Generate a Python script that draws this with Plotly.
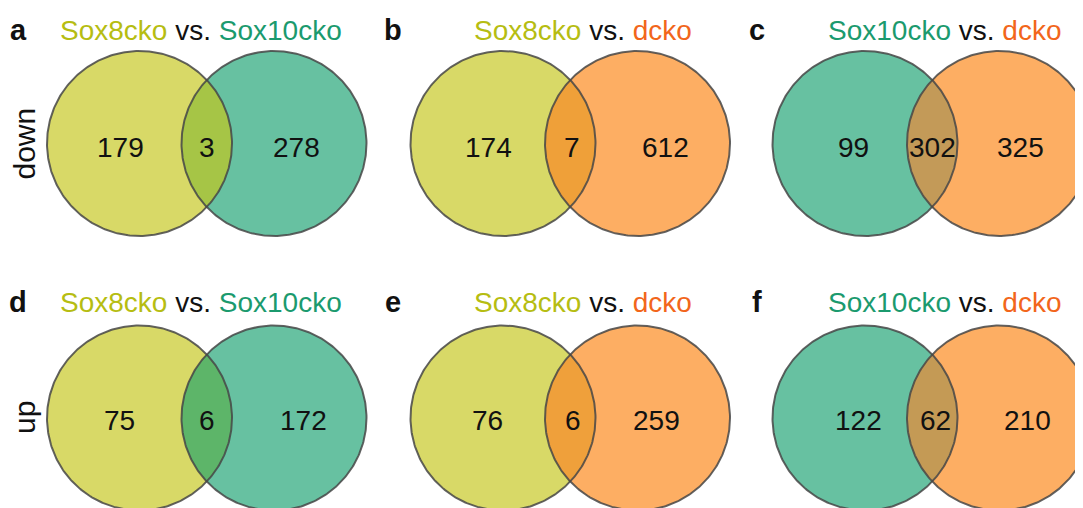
import numpy as np
import plotly.graph_objects as go

# ---- data ----
panel_letters = ["a", "b", "c", "d", "e", "f"]
set_left = ["Sox8cko", "Sox8cko", "Sox10cko", "Sox8cko", "Sox8cko", "Sox10cko"]
set_right = ["Sox10cko", "dcko", "dcko", "Sox10cko", "dcko", "dcko"]
only_left = [179, 174, 99, 75, 76, 122]
shared = [3, 7, 302, 6, 6, 62]
only_right = [278, 612, 325, 172, 259, 210]
row_labels = ["down", "up"]

# ---- styles ----
fill_col = {"Sox8cko": "#d8d967", "Sox10cko": "#67c1a1", "dcko": "#fdae63"}
text_col = {"Sox8cko": "#b6bd12", "Sox10cko": "#1b9a6e", "dcko": "#f2661b"}
lens_col = ["#a6c546", "#efa039", "#c39a58", "#5db569", "#efa03b", "#c49a55"]
FONT = "Arial, Liberation Sans, sans-serif"

# ---- layout (pixel space of the page; body has an 8px margin) ----
W, H = 1083, 508
OFF = 8
left_cx = [139.5, 503, 865]
sep = 134.5
row_cy = [143.5, 418]
R = 92.5
title_y = [30, 302]
num_y = [147, 420]
letter_x = [18, 393, 757]
title_cx = [201, 583, 944]
num_x = [[120, 207, 296], [488, 572, 665], [853, 932, 1020],
         [119, 207, 303], [487, 573, 656], [858, 935, 1027]]

fig = go.Figure()
t = np.linspace(0, 2 * np.pi, 361)


def circle(cx, cy):
    return cx + R * np.cos(t), cy + R * np.sin(t)


def lens(cx1, cx2, cy):
    d = cx2 - cx1
    a = d / 2
    h = np.sqrt(R * R - a * a)
    ang = np.arctan2(h, a)
    th1 = np.linspace(-ang, ang, 100)
    x1 = cx1 + R * np.cos(th1)
    y1 = cy + R * np.sin(th1)
    th2 = np.linspace(np.pi - ang, np.pi + ang, 100)
    x2 = cx2 + R * np.cos(th2)
    y2 = cy + R * np.sin(th2)
    return np.concatenate([x1, x2]), np.concatenate([y1, y2])


annotations = []
for i in range(6):
    r, c = divmod(i, 3)
    cx1 = left_cx[c]
    cx2 = cx1 + sep
    cy = row_cy[r]
    for cx, name in [(cx1, set_left[i]), (cx2, set_right[i])]:
        x, y = circle(cx, cy)
        fig.add_trace(go.Scatter(x=x, y=y, mode="lines", fill="toself",
                                 fillcolor=fill_col[name], line=dict(width=0),
                                 hoverinfo="skip", showlegend=False))
    lx, ly = lens(cx1, cx2, cy)
    fig.add_trace(go.Scatter(x=lx, y=ly, mode="lines", fill="toself",
                             fillcolor=lens_col[i], line=dict(width=0),
                             hoverinfo="skip", showlegend=False))
    for cx in (cx1, cx2):
        x, y = circle(cx, cy)
        fig.add_trace(go.Scatter(x=x, y=y, mode="lines",
                                 line=dict(color="rgba(70,70,70,0.85)", width=2),
                                 hoverinfo="skip", showlegend=False))
    for val, xx in zip([only_left[i], shared[i], only_right[i]], num_x[i]):
        annotations.append(dict(x=xx, y=num_y[r], text=str(val), showarrow=False,
                                font=dict(family=FONT, size=28, color="#111111"),
                                xanchor="center", yanchor="middle"))
    annotations.append(dict(x=letter_x[c], y=title_y[r], text="<b>%s</b>" % panel_letters[i],
                            showarrow=False, xanchor="center", yanchor="middle",
                            font=dict(family=FONT, size=29, color="#111111")))
    title = ("<span style='color:%s'>%s</span> vs. <span style='color:%s'>%s</span>"
             % (text_col[set_left[i]], set_left[i], text_col[set_right[i]], set_right[i]))
    annotations.append(dict(x=title_cx[c], y=title_y[r], text=title, showarrow=False,
                            xanchor="center", yanchor="middle",
                            font=dict(family=FONT, size=28, color="#111111")))

for r in range(2):
    annotations.append(dict(x=24, y=row_cy[r], text=row_labels[r], textangle=-90,
                            showarrow=False, xanchor="center", yanchor="middle",
                            font=dict(family=FONT, size=30, color="#111111")))

fig.update_layout(
    width=W - OFF, height=H - OFF, margin=dict(l=0, r=0, t=0, b=0),
    paper_bgcolor="white", plot_bgcolor="white",
    xaxis=dict(range=[OFF, W], visible=False, fixedrange=True),
    yaxis=dict(range=[H, OFF], visible=False, fixedrange=True),
    annotations=annotations,
)
fig.write_html("out.html")
